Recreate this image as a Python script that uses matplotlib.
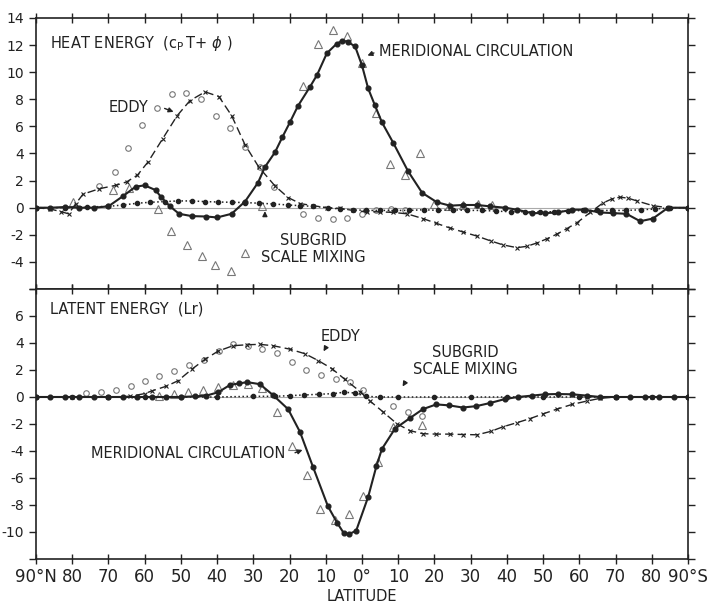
"""
Meridional transport of heat energy and latent energy:
model curves (lines) against observed values (open symbols)
"""
import numpy as np
import matplotlib.pyplot as plt


# ---- heat energy (cpT + phi) ----
heat_mc_lat = [90, 86, 82, 78, 74, 70, 66, 62.5, 60, 57, 55.5, 53, 50.5, 47, 43, 40, 36,
               32.3, 28.7, 26.8, 24, 22, 19.9, 17.7, 14.4, 12.4, 9.7, 7, 5.5, 4, 1.9, 0,
               -1.7, -3.5, -5.5, -8.6, -12.7, -16.6, -20.7, -24.3, -27.9, -31.8, -35.3,
               -39.5, -42.8, -46.9, -50.5, -54, -58, -61.6, -65.7, -69.3, -73, -76.8,
               -80.3, -84.5, -90]
heat_mc = [0, 0, 0.05, 0, 0, 0.1, 0.85, 1.55, 1.65, 1.3, 0.8, 0.1, -0.45, -0.62, -0.65,
           -0.72, -0.45, 0.45, 1.85, 3.0, 4.1, 5.2, 6.3, 7.5, 8.9, 9.8, 11.4, 12.1, 12.3,
           12.25, 11.9, 10.5, 8.8, 7.6, 6.3, 4.8, 2.7, 1.1, 0.4, 0.15, 0.2, 0.2, 0.1, 0,
           -0.15, -0.4, -0.4, -0.35, -0.15, -0.15, -0.35, -0.4, -0.45, -1.0, -0.8, 0, 0]

heat_eddy_lat = [90, 86, 83, 81, 79, 77, 72.5, 68, 65, 62, 59, 55, 51, 47.5, 43.3, 39.5,
                 36, 32.3, 28.5, 24, 20.4, 17, 13.5, 9.7, 6, 2.5, -1.4, -5, -8.6, -12.4,
                 -16.8, -20.5, -24.3, -28, -31.8, -35.5, -39, -42.8, -45.5, -48.3, -51,
                 -53.8, -56.5, -59.4, -63, -66.5, -69, -71.2, -73.5, -75.9, -80.3, -84.5,
                 -90]
heat_eddy = [0, -0.1, -0.3, -0.45, 0.3, 1.0, 1.4, 1.65, 1.9, 2.4, 3.4, 5.1, 6.8, 7.9,
             8.55, 8.2, 6.8, 4.65, 3.0, 1.6, 0.75, 0.3, 0.15, 0, -0.05, -0.2, -0.3, -0.3,
             -0.35, -0.45, -0.8, -1.15, -1.5, -1.8, -2.1, -2.45, -2.75, -2.95, -2.85,
             -2.6, -2.3, -1.95, -1.55, -1.1, -0.35, 0.35, 0.65, 0.78, 0.7, 0.5, 0.15, 0, 0]

heat_sg_lat = [90, 82, 76, 70, 66, 62, 58.5, 54.5, 50.8, 47, 43.3, 39.7, 36, 32.3, 28.5,
               24.6, 20.4, 17, 13.5, 9.5, 6, 2.5, -1, -5, -9, -13, -17, -21, -25, -29,
               -33, -37, -41, -45, -49, -53, -57, -61, -65, -69, -73, -77, -81, -85, -90]
heat_sg = [0, 0, 0.05, 0.1, 0.2, 0.33, 0.4, 0.45, 0.5, 0.5, 0.45, 0.42, 0.4, 0.38, 0.33,
           0.28, 0.2, 0.15, 0.1, 0, -0.1, -0.15, -0.2, -0.2, -0.2, -0.2, -0.15, -0.2,
           -0.15, -0.2, -0.2, -0.25, -0.3, -0.3, -0.3, -0.3, -0.25, -0.2, -0.2, -0.2,
           -0.2, -0.15, -0.1, 0, 0]

heat_obs_eddy_lat = [72.5, 68.2, 64.6, 60.7, 56.6, 52.5, 48.6, 44.4, 40.4, 36.4, 32.2,
                     28.2, 24.2, 16.3, 12.1, 8, 4.1, 0, -4, -8, -12]
heat_obs_eddy = [1.6, 2.6, 4.4, 6.1, 7.35, 8.4, 8.45, 8.0, 6.8, 5.9, 4.5, 3.0, 1.55,
                 -0.45, -0.75, -0.8, -0.75, -0.45, -0.2, -0.1, -0.2]

heat_obs_mc_lat = [79.8, 68.6, 64.4, 56.4, 52.6, 48.3, 44.3, 40.5, 36.3, 32.2, 27.6, 16.3,
                   12.1, 8, 4.1, 0, -3.9, -7.7, -12, -16, -20, -24, -28, -32, -36]
heat_obs_mc = [0.45, 1.3, 1.45, -0.1, -1.75, -2.72, -3.55, -4.25, -4.7, -3.35, 0.15, 9.0,
               12.1, 13.1, 12.7, 10.7, 7.0, 3.2, 2.4, 4.0, 0.3, 0.1, 0.2, 0.3, 0.2]

# ---- latent energy (Lr) ----
lat_eddy_lat = [90, 80, 70, 64, 60, 58, 54, 50.8, 47, 43.3, 39.7, 35.6, 31.7, 28.2, 24.6,
                20, 15.7, 12.1, 8.3, 4.7, 0.5, -2.2, -5.8, -9.7, -13.3, -16.8, -20.5,
                -24.3, -28, -31.8, -35.5, -39, -42.8, -46.4, -50, -53.8, -58, -62.1,
                -65.7, -70, -80, -90]
lat_eddy = [0, 0, 0, 0.05, 0.25, 0.45, 0.8, 1.2, 2.05, 2.8, 3.4, 3.8, 3.87, 3.9, 3.8,
            3.55, 3.2, 2.7, 2.1, 1.3, 0.4, -0.3, -1.1, -2.0, -2.5, -2.72, -2.75, -2.75,
            -2.78, -2.8, -2.55, -2.2, -1.9, -1.6, -1.25, -0.9, -0.55, -0.3, -0.1, 0, 0, 0]

lat_mc_lat = [90, 86, 82, 78, 74, 70, 66, 62, 58, 54, 50, 46, 43, 39.7, 36.4, 34, 31.7,
              28.2, 24.6, 20.4, 17.1, 13.5, 9.4, 6.9, 5, 3.5, 1.6, -1.7, -4, -5.5, -9.1,
              -13.3, -16.8, -20.5, -24, -27.8, -31.5, -35.3, -39.5, -43, -46.9, -50.5,
              -54, -58, -62.1, -65.7, -70, -74, -78, -82, -86, -90]
lat_mc = [0, 0, 0, 0, 0, 0, 0, 0, 0, 0, 0, 0.05, 0.1, 0.35, 0.9, 1.0, 1.1, 0.95, 0.15,
          -0.9, -2.6, -5.2, -8.1, -9.3, -10.1, -10.15, -9.9, -7.4, -5.1, -3.85, -2.35,
          -1.55, -0.9, -0.55, -0.62, -0.78, -0.68, -0.45, -0.15, 0, 0.1, 0.2, 0.22, 0.2,
          0.1, 0, 0, 0, 0, 0, 0, 0]

lat_sg_lat = [90, 80, 70, 60, 50, 40, 30, 24, 20, 16, 12, 8, 5, 2, -1, -5, -10, -20,
              -30, -40, -50, -60, -70, -80, -90]
lat_sg = [0, 0, 0, 0, 0, 0, 0.05, 0.05, 0.1, 0.15, 0.2, 0.25, 0.35, 0.3, 0.05, 0, 0, 0,
          0, 0, 0, 0, 0, 0, 0]

lat_obs_eddy_lat = [76.2, 72, 67.9, 63.8, 59.9, 56, 51.9, 47.8, 43.6, 39.5, 35.6, 31.6,
                    27.6, 23.5, 19.3, 15.5, 11.3, 7.2, 3.3, -0.3, -8.6, -12.7, -16.6]
lat_obs_eddy = [0.3, 0.4, 0.55, 0.8, 1.15, 1.55, 1.9, 2.35, 2.75, 3.4, 3.9, 3.78, 3.55,
                3.25, 2.6, 2.0, 1.6, 1.35, 1.1, 0.5, -0.65, -1.1, -1.4]

lat_obs_mc_lat = [56, 52, 48, 43.9, 39.7, 35.6, 31.5, 27.6, 23.5, 19.3, 15.2, 11.6, 7.4,
                  3.6, -0.3, -4.4, -8.6, -16.6]
lat_obs_mc = [0.1, 0.2, 0.35, 0.55, 0.75, 0.9, 0.95, 0.65, -1.1, -3.6, -5.8, -8.3, -9.1,
              -8.7, -7.3, -4.8, -2.2, -2.1]

xticks = [90, 80, 70, 60, 50, 40, 30, 20, 10, 0, -10, -20, -30, -40, -50, -60, -70,
          -80, -90]
xlabels = ['90°N', '80', '70', '60', '50', '40', '30', '20', '10', '0°', '10', '20',
           '30', '40', '50', '60', '70', '80', '90°S']

ink = '#222222'
light = '#777777'

plt.rcParams['font.family'] = 'DejaVu Sans'
fig = plt.figure(figsize=(7.08, 6.06), dpi=100)
ax1 = fig.add_axes([0.0508, 0.5231, 0.921, 0.4472])
ax2 = fig.add_axes([0.0508, 0.0776, 0.921, 0.4455], sharex=ax1)


def draw_panel(ax, mc_lat, mc, eddy_lat, eddy, sg_lat, sg, oe_lat, oe, om_lat, om):
    ax.axhline(0, color='#aaaaaa', lw=0.8, zorder=1)
    ax.plot(eddy_lat, eddy, ls=(0, (6, 3)), color=ink, lw=1.0, marker='x', ms=2.5,
            mew=0.8, zorder=3)
    ax.plot(sg_lat, sg, ls=':', color=ink, lw=1.1, marker='o', ms=3, zorder=3)
    ax.plot(mc_lat, mc, '-', color=ink, lw=1.5, marker='o', ms=3.4, zorder=4)
    ax.plot(oe_lat, oe, 'o', mfc='none', mec=light, ms=4, mew=0.8, zorder=2)
    ax.plot(om_lat, om, '^', mfc='none', mec=light, ms=6, mew=0.8, zorder=2)
    for s in ax.spines.values():
        s.set_color(ink)
        s.set_linewidth(1.2)
    ax.tick_params(axis='y', which='both', left=True, right=True, direction='out',
                   length=5, width=1, colors=ink, labelsize=10)
    ax.tick_params(axis='x', which='both', top=True, bottom=True, direction='inout',
                   length=7, width=1, colors=ink)


draw_panel(ax1, heat_mc_lat, heat_mc, heat_eddy_lat, heat_eddy, heat_sg_lat, heat_sg,
           heat_obs_eddy_lat, heat_obs_eddy, heat_obs_mc_lat, heat_obs_mc)
draw_panel(ax2, lat_mc_lat, lat_mc, lat_eddy_lat, lat_eddy, lat_sg_lat, lat_sg,
           lat_obs_eddy_lat, lat_obs_eddy, lat_obs_mc_lat, lat_obs_mc)

ax1.set_xlim(90, -90)
ax1.set_ylim(-6, 14)
ax1.set_yticks(np.arange(-4, 15, 2))
ax1.set_yticklabels(['-4', '-2', '0', '2', '4', '6', '8', '10', '12', '14'])
ax1.set_yticks(np.arange(-6, 15, 2), minor=True)
ax1.tick_params(axis='x', labelbottom=False)

ax2.set_ylim(-12, 8)
ax2.set_yticks(np.arange(-10, 7, 2))
ax2.set_yticklabels(['-10', '-8', '-6', '-4', '-2', '0', '2', '4', '6'])
ax2.set_yticks(np.arange(-12, 9, 2), minor=True)
ax2.set_xticks(xticks)
ax2.set_xticklabels(xlabels, fontsize=12)
ax2.tick_params(axis='x', pad=3)
fig.text(0.511, 0.016, 'LATITUDE', ha='center', va='center', fontsize=10.5, color=ink)

txt = dict(color=ink, fontsize=10.5)
arr = dict(arrowstyle='-|>', color=ink, lw=1.0, mutation_scale=7)

# labels on the heat energy panel
ax1.text(86.1, 12.15, r'HEAT ENERGY  ($\mathregular{c_P}\,$T+ $\phi$ )', va='center', **txt)
ax1.text(59.0, 7.4, 'EDDY', ha='right', va='center', **txt)
ax1.annotate('', xy=(51.3, 7.0), xytext=(55.2, 7.4), arrowprops=arr)
ax1.text(-4.6, 11.5, 'MERIDIONAL CIRCULATION', va='center', **txt)
ax1.annotate('', xy=(-0.8, 11.15), xytext=(-4.0, 11.5), arrowprops=arr)
ax1.text(13.5, -2.45, 'SUBGRID', ha='center', va='center', **txt)
ax1.text(13.5, -3.7, 'SCALE MIXING', ha='center', va='center', **txt)
ax1.annotate('', xy=(26.8, -0.05), xytext=(26.8, -0.8), arrowprops=arr)

# labels on the latent energy panel
ax2.text(86.1, 6.5, 'LATENT ENERGY  (Lr)', va='center', **txt)
ax2.text(5.8, 4.5, 'EDDY', ha='center', va='center', **txt)
ax2.annotate('', xy=(11.0, 3.2), xytext=(9.6, 3.85), arrowprops=arr)
ax2.text(-28.4, 3.33, 'SUBGRID', ha='center', va='center', **txt)
ax2.text(-28.4, 2.0, 'SCALE MIXING', ha='center', va='center', **txt)
ax2.annotate('', xy=(-10.8, 0.6), xytext=(-12.4, 1.3), arrowprops=arr)
ax2.text(48.0, -4.2, 'MERIDIONAL CIRCULATION', ha='center', va='center', **txt)
ax2.annotate('', xy=(15.7, -3.85), xytext=(19.2, -4.2), arrowprops=arr)

fig.savefig('out.png', dpi=100)
